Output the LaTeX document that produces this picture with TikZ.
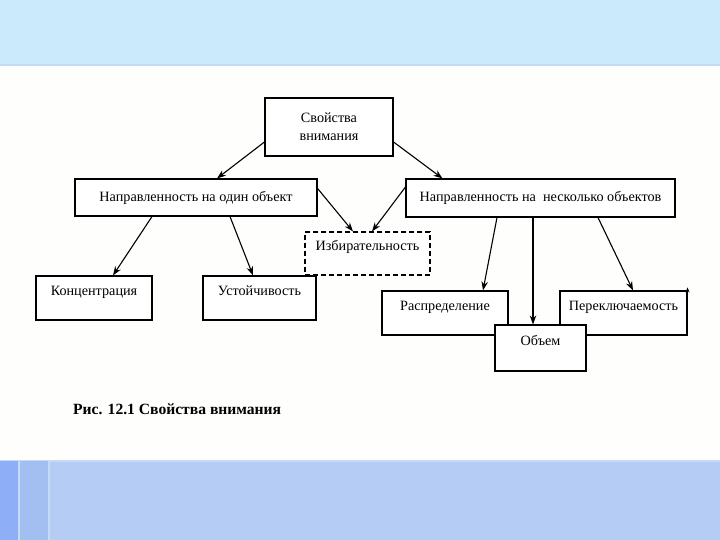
\documentclass[tikz,border=0pt]{standalone}
\usepackage{fontspec}
\setmainfont{Liberation Serif}
\usetikzlibrary{arrows.meta}
\definecolor{topband}{HTML}{CBEBFD}
\definecolor{botband}{HTML}{B5CDF4}
\definecolor{stripeA}{HTML}{8FAEF8}
\definecolor{stripeB}{HTML}{A3BFF2}
\definecolor{stripeL}{HTML}{C6DAF8}
\definecolor{paper}{HTML}{FEFEFC}
\tikzset{
  x=1pt, y=-1pt,
  box/.style={draw=black, line width=1.1pt, fill=white, inner sep=0pt,
    font=\fontsize{14.2}{16}\selectfont, align=center},
  lowtext/.style={text height=8pt, text depth=14pt},
  conn/.style={draw=black, line width=1.1pt, -{Stealth[length=9pt,width=6.5pt]}},
}
\begin{document}
\begin{tikzpicture}
\useasboundingbox (0,0) rectangle (720,540);
% background
\fill[paper] (0,0) rectangle (720,540);
\fill[topband] (0,0) rectangle (720,65);
\fill[stripeL] (0,64) rectangle (720,66);
\fill[botband] (0,461) rectangle (720,540);
\fill[stripeL] (0,460) rectangle (720,462);
\fill[stripeA] (0,461) rectangle (18,540);
\fill[stripeL] (18,461) rectangle (20,540);
\fill[stripeB] (20,461) rectangle (48,540);
\fill[stripeL] (48,461) rectangle (50,540);

% nodes
\node[box, minimum width=128pt, minimum height=58pt] (prop) at (329,127)
  {Свойства\\[2pt]внимания};
\node[box, minimum width=242pt, minimum height=37pt] (one) at (196,197.5)
  {Направленность на один объект};
\node[box, minimum width=269pt, minimum height=38pt] (many) at (540.5,198)
  {Направленность на\ \ несколько объектов};
\node[box, dashed, dash pattern=on 5pt off 3pt, minimum width=125pt, minimum height=43pt, lowtext] (sel) at (367.5,253.5)
  {Избирательность};
\node[box, minimum width=116pt, minimum height=44pt, lowtext] (conc) at (94,298)
  {Концентрация};
\node[box, minimum width=113pt, minimum height=44pt, lowtext] (stab) at (259.5,298)
  {Устойчивость};
\node[box, minimum width=126pt, minimum height=44pt, lowtext] (distr) at (445,313)
  {Распределение};
\node[box, minimum width=127pt, minimum height=44pt, lowtext] (switch) at (623.5,313)
  {Переключаемость};
\node[box, minimum width=91pt, minimum height=46pt, lowtext] (vol) at (540.5,348)
  {Объем};

% connectors
\draw[conn] ([yshift=-15pt]prop.west) -- ([xshift=21pt]one.north);
\draw[conn] ([yshift=-15pt]prop.east) -- ([xshift=-98pt]many.north);
\draw[conn] ([yshift=-10pt]one.north east) -- ([xshift=-14.5pt]sel.north);
\draw[conn] ([yshift=11pt]many.west) -- ([xshift=4.5pt]sel.north);
\draw[conn] ([xshift=-44pt]one.south) -- ([xshift=19pt]conc.north);
\draw[conn] ([xshift=34pt]one.south) -- ([xshift=-6.5pt]stab.north);
\draw[conn] ([xshift=-43.5pt]many.south) -- ([xshift=38pt]distr.north);
\draw[conn] ([xshift=-7.5pt]many.south) -- ([xshift=-7.5pt]vol.north);
\draw[conn] ([xshift=57.5pt]many.south) -- ([xshift=9.5pt]switch.north);
\draw[draw=black, line width=0.9pt, -{Stealth[length=5pt,width=4pt]}]
  ([yshift=-12pt]switch.north east) -- ([yshift=3pt]switch.north east);

% caption
\node[font=\bfseries\fontsize{15.6}{18}\selectfont, anchor=west, inner sep=0pt] (cap) at (73,409)
  {Рис. 12.1 Свойства внимания};
\end{tikzpicture}
\end{document}
